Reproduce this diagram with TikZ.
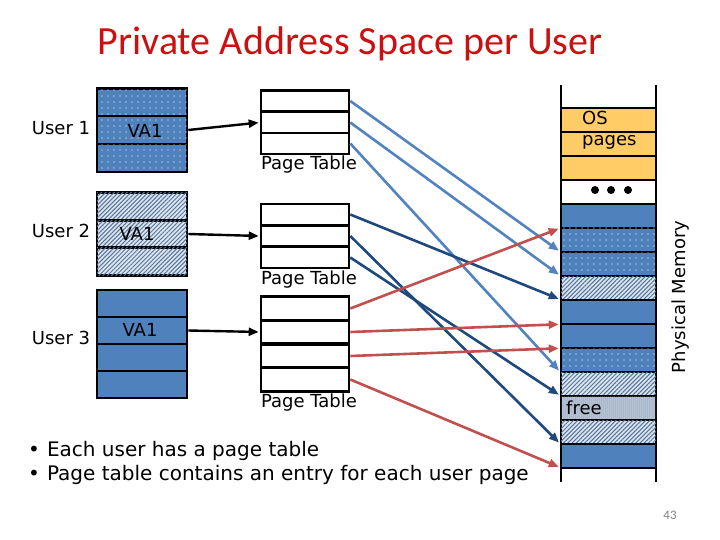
\documentclass[tikz,border=0pt]{standalone}
\usepackage{fontspec}
\setmainfont{DejaVu Sans}
\newfontfamily\titlefont{Carlito}
\usetikzlibrary{arrows.meta,patterns,patterns.meta}
\definecolor{blueA}{HTML}{4F81BD}
\definecolor{lblue}{HTML}{5283C0}
\definecolor{dblue}{HTML}{1F497D}
\definecolor{redA}{HTML}{C0504D}
\definecolor{orangeA}{HTML}{FFCC66}
\definecolor{titlered}{HTML}{CC1010}
\definecolor{hatchbg}{HTML}{DCE5F0}
\definecolor{hatchln}{HTML}{557499}
\definecolor{freebg}{HTML}{A3B3C8}
\begin{document}
\begin{tikzpicture}[x=1pt,y=-1pt,
  lbl/.style={font=\fontsize{18}{21.5}\selectfont, inner sep=0pt},
  cell/.style={draw, line width=2.6pt, rectangle, inner sep=0pt},
  ucell/.style={cell, minimum width=90pt},
  pcell/.style={cell, fill=white, minimum width=88pt},
  mcell/.style={cell, minimum width=95pt, minimum height=24pt},
  solidfill/.style={fill=blueA},
  dotfill/.style={fill=blueA, postaction={pattern={Dots[distance=6pt,radius=0.65pt]}, pattern color=white}},
  hatchfill/.style={fill=hatchbg, postaction={pattern={Lines[angle=45,distance=3pt,line width=1pt]}, pattern color=hatchln}},
  freefill/.style={fill=freebg, postaction={pattern={Dots[distance=2pt,radius=0.5pt]}, pattern color=white}},
  osfill/.style={fill=orangeA},
  conn/.style={line width=2.6pt, -{Triangle[length=10pt,width=8pt]}, shorten >=1pt}
]
\useasboundingbox (0,0) rectangle (720,540);

% title
\node[font=\titlefont\fontsize{40}{48}\selectfont, text=titlered] (title) at (350,44) {Private Address Space per User};

% user labels
\node[lbl] (user1) at (61,128) {User 1};
\node[lbl] (user2) at (61,231) {User 2};
\node[lbl] (user3) at (61,338) {User 3};

% user 1 address space
\node[ucell, dotfill, minimum height=27.7pt] (u1a) at (142,102.5) {};
\node[ucell, dotfill, minimum height=27.7pt] (u1b) at (142,130) {};
\node[ucell, dotfill, minimum height=27.7pt] (u1c) at (142,158) {};
\node[lbl] (va1) at (145,131) {VA1};

% user 2 address space
\node[ucell, hatchfill, minimum height=27.5pt] (u2a) at (142,206.5) {};
\node[ucell, hatchfill, minimum height=27.5pt] (u2b) at (142,234) {};
\node[ucell, hatchfill, minimum height=27.5pt] (u2c) at (142,261.5) {};
\node[lbl] (va2) at (137,234) {VA1};

% user 3 address space
\node[ucell, solidfill, minimum height=27pt] (u3a) at (142,303.5) {};
\node[ucell, solidfill, minimum height=27pt] (u3b) at (142,330.5) {};
\node[ucell, solidfill, minimum height=27pt] (u3c) at (142,357.5) {};
\node[ucell, solidfill, minimum height=27pt] (u3d) at (142,384.5) {};
\node[lbl] (va3) at (140,330) {VA1};

% page tables
\node[pcell, minimum height=21.3pt] (p1a) at (305,101) {};
\node[pcell, minimum height=21.3pt] (p1b) at (305,122.5) {};
\node[pcell, minimum height=21.3pt] (p1c) at (305,143.5) {};
\node[lbl] (pt1) at (309,165) {Page Table};

\node[pcell, minimum height=21.3pt] (p2a) at (305,214.5) {};
\node[pcell, minimum height=21.3pt] (p2b) at (305,236) {};
\node[pcell, minimum height=21.3pt] (p2c) at (305,257.5) {};
\node[lbl] (pt2) at (309,280) {Page Table};

\node[pcell, minimum height=23.5pt] (p3a) at (305,308.5) {};
\node[pcell, minimum height=23.5pt] (p3b) at (305,332) {};
\node[pcell, minimum height=23.5pt] (p3c) at (305,356) {};
\node[pcell, minimum height=23.5pt] (p3d) at (305,379.5) {};
\node[lbl] (pt3) at (309,403) {Page Table};

% physical memory
\coordinate (mlt) at (561,85);
\coordinate (mlb) at (561,482);
\coordinate (mrt) at (656,85);
\coordinate (mrb) at (656,482);
\draw[line width=2.6pt] (mlt) -- (mlb);
\draw[line width=2.6pt] (mrt) -- (mrb);
\node[mcell, osfill] (m0) at (608.5,120) {};
\node[mcell, osfill] (m1) at (608.5,144) {};
\node[mcell, osfill] (m2) at (608.5,168) {};
\node[mcell, fill=white] (m3) at (608.5,192) {};
\node[mcell, solidfill] (m4) at (608.5,216) {};
\node[mcell, dotfill] (m5) at (608.5,240) {};
\node[mcell, dotfill] (m6) at (608.5,264) {};
\node[mcell, hatchfill] (m7) at (608.5,288) {};
\node[mcell, solidfill] (m8) at (608.5,312) {};
\node[mcell, solidfill] (m9) at (608.5,336) {};
\node[mcell, dotfill] (m10) at (608.5,360) {};
\node[mcell, hatchfill] (m11) at (608.5,384) {};
\node[mcell, freefill] (m12) at (608.5,408) {};
\node[mcell, hatchfill] (m13) at (608.5,432) {};
\node[mcell, solidfill] (m14) at (608.5,456) {};
\node[lbl, align=left, anchor=west] (os) at (582,130) {OS\\pages};
\node[lbl, anchor=west] (free) at (566,408) {free};
\fill (595,190) circle (4pt);
\fill (611,190) circle (4pt);
\fill (628,190) circle (4pt);
\node[lbl, rotate=90] (phys) at (681,297) {Physical Memory};

% user -> page table
\draw[conn, black, line width=2.4pt] (u1b.east) -- (p1b.west);
\draw[conn, black, line width=2.4pt] (u2b.east) -- (p2b.west);
\draw[conn, black, line width=2.4pt] (u3b.east) -- (p3b.west);

% page table 1 -> memory
\draw[conn, lblue] (p1a.east) -- ([yshift=2pt]m5.south west);
\draw[conn, lblue] (p1b.east) -- ([yshift=2pt]m6.south west);
\draw[conn, lblue] (p1c.east) -- ([yshift=2pt]m10.south west);

% page table 2 -> memory
\draw[conn, dblue] (p2a.east) -- ([yshift=2pt]m7.south west);
\draw[conn, dblue] (p2b.east) -- ([yshift=2pt]m13.south west);
\draw[conn, dblue] (p2c.east) -- ([yshift=2pt]m11.south west);

% page table 3 -> memory
\draw[conn, redA] (p3a.east) -- ([yshift=1pt]m4.south west);
\draw[conn, redA] (p3b.east) -- ([yshift=1pt]m8.south west);
\draw[conn, redA] (p3c.east) -- ([yshift=1pt]m9.south west);
\draw[conn, redA] (p3d.east) -- ([yshift=2pt]m14.south west);

% bullets
\node[anchor=west, align=left, inner sep=0pt, font=\fontsize{20}{24}\selectfont] (bullets) at (28,463)
  {•\hspace{0.35em}Each user has a page table\\•\hspace{0.35em}Page table contains an entry for each user page};

% page number
\node[font=\titlefont\fontsize{13}{15}\selectfont, text=gray] (pnum) at (670,515) {43};
\end{tikzpicture}
\end{document}
